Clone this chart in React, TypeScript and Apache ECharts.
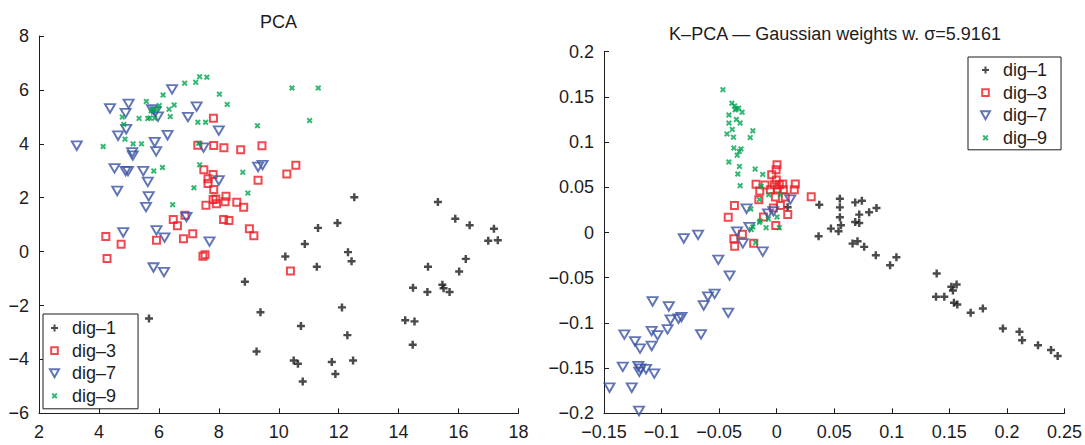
import React, { useEffect, useRef } from "react";
import * as echarts from "echarts";

// ---------- data: PCA (left panel) ----------
const pcaDig1 = [[8.87,-1.12],[9.39,-2.25],[9.26,-3.71],[5.67,-2.48],[5.0,-2.97],[12.52,2.02],[11.96,1.06],[11.31,0.88],[15.31,1.84],[15.89,1.22],[16.37,0.98],[17.18,0.85],[16.99,0.4],[17.31,0.42],[10.87,0.28],[10.22,-0.18],[11.27,-0.56],[12.31,-0.02],[12.43,-0.36],[14.98,-0.56],[16.24,-0.27],[16.02,-0.74],[14.48,-1.34],[14.96,-1.5],[15.46,-1.23],[15.5,-1.36],[15.7,-1.5],[12.11,-2.07],[10.74,-2.76],[14.22,-2.55],[14.53,-2.59],[12.29,-3.1],[14.47,-3.46],[10.5,-4.04],[10.64,-4.16],[11.77,-4.1],[12.48,-4.04],[11.89,-4.54],[10.8,-4.82]];
const pcaDig3 = [[7.82,4.95],[7.3,3.95],[7.83,3.94],[8.17,3.85],[8.73,3.78],[9.44,3.93],[7.5,3.04],[7.81,2.86],[7.64,2.7],[7.64,2.53],[9.31,2.65],[7.83,2.3],[8.24,2.05],[7.81,1.93],[7.9,1.95],[7.92,1.78],[8.21,1.85],[8.6,1.83],[8.83,1.65],[7.57,1.72],[6.87,1.35],[6.48,1.19],[6.62,0.96],[8.16,1.19],[8.34,1.15],[9.02,0.85],[9.17,0.59],[4.23,0.56],[4.74,0.27],[4.27,-0.26],[5.92,0.42],[6.82,0.48],[7.13,0.66],[7.47,-0.17],[7.54,-0.12],[10.57,3.2],[10.27,2.88],[10.39,-0.72]];
const pcaDig7 = [[6.44,6.02],[4.99,5.48],[4.37,5.31],[4.89,5.14],[5.77,5.28],[5.89,5.2],[5.97,5.01],[7.26,5.38],[6.97,4.99],[4.91,4.54],[8.0,4.49],[4.64,4.3],[6.29,4.32],[3.26,3.93],[5.86,4.06],[5.91,3.72],[5.11,3.68],[5.13,3.56],[7.49,3.86],[4.52,3.09],[4.89,2.99],[4.97,2.99],[5.48,2.99],[5.63,2.59],[4.61,2.25],[5.66,2.05],[5.57,1.65],[8.0,2.64],[9.31,3.14],[9.46,3.21],[6.92,1.28],[4.81,0.71],[5.92,0.79],[6.19,0.52],[7.69,0.37],[5.82,-0.59],[6.17,-0.76]];
const pcaDig9 = [[7.36,6.49],[7.6,6.47],[6.86,6.25],[7.23,6.28],[6.14,5.81],[8.02,5.84],[5.58,5.57],[6.01,5.42],[6.51,5.44],[8.28,5.46],[6.34,5.28],[5.83,5.28],[5.92,5.26],[5.74,5.23],[4.78,4.99],[5.34,4.94],[5.63,4.94],[5.7,4.96],[5.86,4.95],[6.38,5.01],[7.3,4.8],[7.56,4.8],[4.83,4.72],[9.29,4.67],[4.87,4.17],[5.14,4.0],[5.42,4.0],[4.14,3.9],[7.33,4.02],[7.36,3.22],[6.12,3.12],[5.83,2.99],[8.8,2.94],[7.17,2.37],[8.97,2.17],[6.46,1.74],[10.44,6.07],[11.32,6.07],[11.03,4.86]];

// ---------- data: K-PCA (right panel) ----------
const kpcaDig1 = [[0.037,0.0308],[0.0549,0.0374],[0.0549,0.0278],[0.0682,0.0333],[0.074,0.0352],[0.0867,0.0271],[0.0803,0.0223],[0.0717,0.0198],[0.0549,0.0168],[0.0558,0.008],[0.0682,0.0117],[0.0717,0.0106],[0.0471,0.0043],[0.0537,0.0013],[0.0364,-0.0042],[0.0659,-0.0123],[0.0702,-0.0097],[0.076,-0.0159],[0.0861,-0.0251],[0.104,-0.0273],[0.0985,-0.0362],[0.139,-0.0454],[0.1517,-0.06],[0.1563,-0.0575],[0.1531,-0.0641],[0.1384,-0.0711],[0.1456,-0.0711],[0.154,-0.0777],[0.1569,-0.0796],[0.1685,-0.0888],[0.1791,-0.084],[0.1965,-0.1061],[0.2109,-0.1097],[0.2132,-0.1193],[0.227,-0.1248],[0.2383,-0.13],[0.2441,-0.1366],[0.0095,0.028]];
const kpcaDig3 = [[0.0003,0.0749],[-0.0005,0.0694],[-0.0043,0.0638],[-0.0003,0.058],[-0.0179,0.0533],[-0.0101,0.0526],[-0.002,0.0529],[0.0023,0.0529],[0.0053,0.0536],[0.0162,0.0536],[-0.0147,0.046],[-0.0055,0.0473],[0.0006,0.048],[0.0058,0.0473],[0.0153,0.0473],[-0.0155,0.0363],[-0.0011,0.0393],[0.0075,0.0393],[0.03,0.0396],[-0.0367,0.03],[0.0032,0.03],[-0.0029,0.0272],[0.0096,0.0198],[-0.0115,0.0172],[-0.0421,0.017],[-0.0008,0.0078],[-0.0298,-0.002],[-0.0372,-0.0068],[-0.0365,-0.0153],[-0.02,-0.012]];
const kpcaDig7 = [[0.0118,0.0364],[-0.0029,0.0234],[-0.0075,0.0208],[-0.0262,0.0263],[-0.0237,0.006],[-0.0345,0.001],[-0.0294,-0.012],[-0.0121,-0.0212],[-0.0683,-0.0026],[-0.0807,-0.0066],[-0.0507,-0.0302],[-0.0409,-0.0477],[-0.0539,-0.0679],[-0.0597,-0.0708],[-0.0634,-0.0807],[-0.0421,-0.0888],[-0.1078,-0.0763],[-0.0937,-0.0818],[-0.0827,-0.0936],[-0.0853,-0.0954],[-0.0922,-0.0965],[-0.0948,-0.1072],[-0.1086,-0.109],[-0.1035,-0.1138],[-0.0657,-0.1127],[-0.1323,-0.113],[-0.1231,-0.1204],[-0.1187,-0.1284],[-0.1086,-0.1255],[-0.1337,-0.1486],[-0.1202,-0.1479],[-0.1182,-0.1505],[-0.1193,-0.1541],[-0.1135,-0.1512],[-0.1063,-0.156],[-0.1452,-0.1717],[-0.1259,-0.1717],[-0.1196,-0.1974]];
const kpcaDig9 = [[-0.0467,0.158],[-0.0389,0.143],[-0.0366,0.14],[-0.035,0.137],[-0.033,0.1375],[-0.036,0.1357],[-0.03,0.133],[-0.0415,0.13],[-0.035,0.125],[-0.0415,0.121],[-0.0317,0.121],[-0.0386,0.114],[-0.0207,0.1125],[-0.0432,0.109],[-0.0375,0.1055],[-0.023,0.105],[-0.0372,0.0934],[-0.031,0.0925],[-0.0325,0.0898],[-0.0343,0.0855],[-0.0415,0.078],[-0.0323,0.0731],[-0.0187,0.0702],[-0.0338,0.0647],[-0.0121,0.0642],[-0.0317,0.0518],[-0.0135,0.051],[-0.0069,0.0418],[0.0032,0.0418],[-0.015,0.0365],[-0.0225,0.026],[0.0003,0.0172],[-0.0072,0.015],[-0.015,0.0113],[-0.0144,0.0128],[-0.0207,0.0062],[-0.0221,0.0032],[-0.0092,0.0053],[0.0023,0.0053],[-0.0183,-0.0112]];

const seriesNames = ["dig\u20131", "dig\u20133", "dig\u20137", "dig\u20139"];
const pcaTicksX = { min: 2, max: 18, interval: 2 };
const pcaTicksY = { min: -6, max: 8, interval: 2 };
const kpcaTicksX = { min: -0.15, max: 0.25, interval: 0.05 };
const kpcaTicksY = { min: -0.2, max: 0.2, interval: 0.05 };
const titles = ["PCA", "K\u2013PCA \u2014 Gaussian weights w. \u03c3=5.9161"];

const FONT = '"Liberation Sans", Arial, Helvetica, sans-serif';
const AX = "#1e1c1d";
const RED = "#ed1c24";
const BLUE = "#3953a4";
const GREEN = "#00a651";
const PLUS = "path://M-1.1,-3.6H1.1V-1.1H3.6V1.1H1.1V3.6H-1.1V1.1H-3.6V-1.1H-1.1Z";
const CROSS = "path://M-3,-1.6L-1.6,-3L0,-1.4L1.6,-3L3,-1.6L1.4,0L3,1.6L1.6,3L0,1.4L-1.6,3L-3,1.6L-1.4,0Z";
const TRI_DOWN = "path://M-5,-4L5,-4L0,4Z";
// legend icons (extra move-to points pad the bounding box so the glyph is smaller)
const ICON_PLUS = "path://M-4.5,-4.5M4.5,4.5M-1,-3.5H1V-1H3.5V1H1V3.5H-1V1H-3.5V-1H-1Z";
const ICON_RECT = "path://M-4.5,-4.5M4.5,4.5M-3.3,-3.3H3.3V3.3H-3.3Z";
const ICON_TRI = "path://M-5,-4.5L5,-4.5L0,4.5Z";
const ICON_CROSS = "path://M-4.5,-4.5M4.5,4.5M-3,-1.6L-1.6,-3L0,-1.4L1.6,-3L3,-1.6L1.4,0L3,1.6L1.6,3L0,1.4L-1.6,3L-3,1.6L-1.4,0Z";
const legendIcons = [ICON_PLUS, ICON_RECT, ICON_TRI, ICON_CROSS];

const fmt = (v: number) => {
  const r = Math.round(v * 100) / 100;
  if (r === 0) return "0";
  const s = String(Math.abs(r));
  return r < 0 ? "\u2212" + s : s;
};

function styleFor(i: number) {
  if (i === 0) return { symbol: PLUS, symbolSize: 8, itemStyle: { color: AX } };
  if (i === 1)
    return { symbol: "rect", symbolSize: 7, itemStyle: { color: "rgba(255,255,255,0)", borderColor: RED, borderWidth: 2 } };
  if (i === 2)
    return { symbol: TRI_DOWN, symbolSize: [10, 8.5], itemStyle: { color: "rgba(255,255,255,0)", borderColor: BLUE, borderWidth: 1.9 } };
  return { symbol: CROSS, symbolSize: 6, itemStyle: { color: GREEN } };
}

function axis(gridIndex: number, t: { min: number; max: number; interval: number }) {
  return {
    type: "value",
    gridIndex,
    min: t.min,
    max: t.max,
    interval: t.interval,
    axisLine: { show: true, onZero: false, lineStyle: { color: AX, width: 1 } },
    axisTick: { show: true, inside: true, length: 5, lineStyle: { color: AX, width: 1 } },
    axisLabel: { fontSize: 18, color: AX, fontFamily: FONT, margin: 10, formatter: fmt },
    splitLine: { show: false },
  };
}

function legend(left: number, top: number, padding: number[]) {
  return {
    orient: "vertical",
    left,
    top,
    padding,
    itemWidth: 9,
    itemHeight: 9,
    itemGap: 4.6,
    data: seriesNames.map((name, i) => ({ name, icon: legendIcons[i] })),
    backgroundColor: "#fff",
    borderColor: AX,
    borderWidth: 1,
    borderRadius: 0,
    selectedMode: false,
    textStyle: { fontSize: 18, lineHeight: 18, color: AX, fontFamily: FONT, padding: [0, 0, 0, 8] },
  };
}

export default function App() {
  const ref = useRef<HTMLDivElement>(null);
  useEffect(() => {
    if (!ref.current) return;
    const chart = echarts.init(ref.current, null, { renderer: "svg" });
    const left = [pcaDig1, pcaDig3, pcaDig7, pcaDig9];
    const right = [kpcaDig1, kpcaDig3, kpcaDig7, kpcaDig9];
    const series: any[] = [];
    [left, right].forEach((set, g) => {
      set.forEach((data, i) => {
        series.push({
          type: "scatter",
          name: seriesNames[i],
          xAxisIndex: g,
          yAxisIndex: g,
          data,
          ...styleFor(i),
        });
      });
    });
    chart.setOption({
      animation: false,
      backgroundColor: "#fff",
      grid: [
        { left: 39, top: 36, width: 479.5, height: 377.3 },
        { left: 604, top: 51.7, width: 462, height: 361.6 },
      ],
      xAxis: [axis(0, pcaTicksX), axis(1, kpcaTicksX)],
      yAxis: [axis(0, pcaTicksY), axis(1, kpcaTicksY)],
      legend: [legend(43, 314, [5, 22, 4, 6]), legend(968, 57, [4, 14, 3, 12])],
      graphic: [
        { type: "text", x: 278.5, y: 22, style: { text: titles[0], fontSize: 18, fontFamily: FONT, fill: AX, textAlign: "center", textVerticalAlign: "middle" } },
        { type: "text", x: 835, y: 34, style: { text: titles[1], fontSize: 18, fontFamily: FONT, fill: AX, textAlign: "center", textVerticalAlign: "middle" } },
      ],
      series,
    });
    return () => chart.dispose();
  }, []);
  return <div ref={ref} style={{ position: "absolute", left: 0, top: 0, width: 1085, height: 445 }} />;
}
